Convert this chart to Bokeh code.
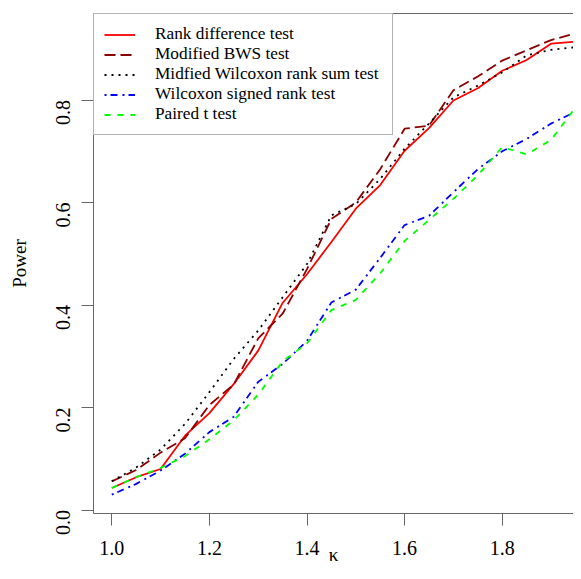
import math
from bokeh.plotting import figure
from bokeh.models import Range1d, FixedTicker, PrintfTickFormatter, LinearAxis
from bokeh.embed import file_html
from bokeh.resources import INLINE

# ---- data ----
kappa = [1.00, 1.05, 1.10, 1.15, 1.20, 1.25, 1.30, 1.35, 1.40, 1.45,
         1.50, 1.55, 1.60, 1.65, 1.70, 1.75, 1.80, 1.85, 1.90, 1.95]
rank_difference = [0.043, 0.064, 0.080, 0.145, 0.189, 0.246, 0.311, 0.404, 0.460, 0.523,
                   0.588, 0.634, 0.701, 0.745, 0.799, 0.823, 0.857, 0.878, 0.910, 0.914]
modified_bws = [0.056, 0.078, 0.112, 0.140, 0.205, 0.245, 0.335, 0.383, 0.470, 0.568,
                0.600, 0.665, 0.744, 0.750, 0.819, 0.846, 0.877, 0.897, 0.917, 0.930]
midfied_wilcoxon = [0.056, 0.083, 0.118, 0.168, 0.230, 0.295, 0.350, 0.415, 0.480, 0.575,
                    0.597, 0.646, 0.705, 0.754, 0.805, 0.828, 0.854, 0.887, 0.898, 0.903]
wilcoxon_signed = [0.030, 0.051, 0.077, 0.110, 0.152, 0.182, 0.250, 0.285, 0.330, 0.405,
                   0.430, 0.492, 0.556, 0.574, 0.620, 0.665, 0.700, 0.724, 0.754, 0.777]
paired_t = [0.043, 0.064, 0.082, 0.105, 0.138, 0.175, 0.225, 0.290, 0.325, 0.390,
            0.410, 0.462, 0.525, 0.566, 0.607, 0.653, 0.708, 0.694, 0.722, 0.785]

series_names = ["Rank difference test", "Modified BWS test",
                "Midfied Wilcoxon rank sum test", "Wilcoxon signed rank test",
                "Paired t test"]
x_ticks = [1.0, 1.2, 1.4, 1.6, 1.8]
y_ticks = [0.0, 0.2, 0.4, 0.6, 0.8]
x_title = "κ"
y_title = "Power"

FONT = "Liberation Serif"
AXC = "#666666"

p = figure(width=573, height=571, output_backend="svg", toolbar_location=None,
           x_range=Range1d(0.9625, 1.9461), y_range=Range1d(-0.0068, 0.9688),
           min_border_left=93, min_border_right=0, min_border_top=13, min_border_bottom=58)
p.outline_line_color = None
p.xgrid.grid_line_color = None
p.ygrid.grid_line_color = None
p.background_fill_color = "white"
p.border_fill_color = "white"

styles = [
    (rank_difference, "#FF0000", "solid"),
    (modified_bws, "#8B0000", "11 5"),
    (midfied_wilcoxon, "#000000", "2 5"),
    (wilcoxon_signed, "#0000FF", "2 4 7 5"),
    (paired_t, "#00FF00", "6 7"),
]
for (vals, col, dash), name in zip(styles, series_names):
    p.line(kappa, vals, line_color=col, line_width=1.8, line_dash=dash, legend_label=name)

for ax in (p.xaxis[0], p.yaxis[0]):
    ax.axis_line_color = AXC
    ax.major_tick_line_color = AXC
    ax.major_tick_out = 12
    ax.major_tick_in = 0
    ax.minor_tick_line_color = None
    ax.major_label_text_font = FONT
    ax.major_label_text_font_size = "20px"
    ax.major_label_text_color = "black"
    ax.axis_label_text_font = FONT
    ax.axis_label_text_font_size = "19px"
    ax.axis_label_text_font_style = "normal"
    ax.axis_label_text_color = "black"
    ax.formatter = PrintfTickFormatter(format="%.1f")

p.xaxis[0].ticker = FixedTicker(ticks=x_ticks)
p.yaxis[0].ticker = FixedTicker(ticks=y_ticks)
p.xaxis[0].axis_label = x_title
p.yaxis[0].axis_label = y_title
p.xaxis[0].major_label_standoff = 15
p.xaxis[0].axis_label_standoff = -14
p.xaxis[0].axis_label_text_align = "left"
p.yaxis[0].major_label_standoff = 18
p.yaxis[0].axis_label_standoff = 17
p.yaxis[0].major_label_orientation = math.pi / 2

top = LinearAxis(ticker=FixedTicker(ticks=[]), major_label_text_font_size="0px",
                 major_tick_out=0, major_tick_in=0, major_label_standoff=0,
                 axis_line_color=AXC, minor_tick_line_color=None)
p.add_layout(top, "above")

lg = p.legend[0]
lg.location = "top_left"
lg.margin = 0
lg.padding = 10
lg.spacing = 0
lg.label_height = 19
lg.glyph_height = 19
lg.glyph_width = 31
lg.label_standoff = 20
lg.label_width = 227
lg.label_text_font = FONT
lg.label_text_font_size = "17.3px"
lg.label_text_color = "black"
lg.border_line_color = AXC
lg.border_line_width = 1
lg.background_fill_color = "white"
lg.background_fill_alpha = 1.0

open("out.html", "w").write(file_html(p, INLINE))
